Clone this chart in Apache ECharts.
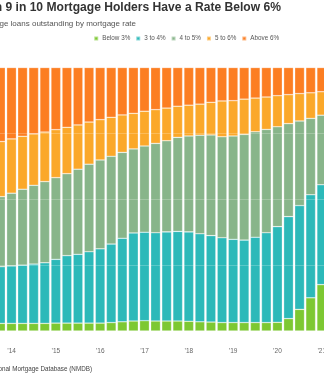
<!DOCTYPE html>
<html>
<head>
<meta charset="utf-8">
<script src="https://cdn.jsdelivr.net/npm/echarts@6/dist/echarts.min.js"></script>
<style>
  html, body { margin: 0; padding: 0; background: #ffffff; overflow: hidden; width: 324px; height: 379px; position: relative; }
  #chart { position: absolute; left: -20px; top: 0; width: 364px; height: 379px; }
</style>
</head>
<body>
<div id="chart"></div>
<script>
// Quarterly categories (2013 Q4 – 2021 Q1)
var categories = [
  '2013Q4',
  '2014Q1','2014Q2','2014Q3','2014Q4',
  '2015Q1','2015Q2','2015Q3','2015Q4',
  '2016Q1','2016Q2','2016Q3','2016Q4',
  '2017Q1','2017Q2','2017Q3','2017Q4',
  '2018Q1','2018Q2','2018Q3','2018Q4',
  '2019Q1','2019Q2','2019Q3','2019Q4',
  '2020Q1','2020Q2','2020Q3','2020Q4',
  '2021Q1'
];
// Tick labels shown at Q1 of each year
var tickLabels = {
  '2014Q1': '\u201914', '2015Q1': '\u201915', '2016Q1': '\u201916', '2017Q1': '\u201917',
  '2018Q1': '\u201918', '2019Q1': '\u201919', '2020Q1': '\u201920', '2021Q1': '\u201921'
};
var seriesNames = ['Below 3%', '3 to 4%', '4 to 5%', '5 to 6%', 'Above 6%'];

// Share of loans outstanding (%)
var below3 = [2.9,2.9,2.9,2.9,2.9,3.0,3.0,3.0,3.0,3.0,3.2,3.5,3.8,3.9,3.8,3.8,3.8,3.7,3.5,3.4,3.2,3.2,3.2,3.2,3.2,3.3,4.7,8.2,12.6,17.6];
var r3to4  = [21.5,21.8,22.1,22.5,23.0,24.2,25.6,26.1,27.1,28.2,29.8,31.7,33.4,33.6,33.5,33.8,34.0,33.9,33.4,32.8,32.2,31.6,31.3,32.4,34.1,36.3,38.7,39.4,39.1,37.9];
var r4to5  = [26.6,27.6,28.8,29.9,30.8,31.0,31.1,32.3,33.2,33.7,33.3,32.6,31.9,32.7,33.9,34.6,35.7,36.4,37.4,38.2,38.3,39.2,40.1,40.0,39.2,37.9,35.3,32.1,29.0,26.4];
var r5to6  = [20.9,20.6,20.1,19.5,18.8,18.2,17.6,16.8,16.0,15.3,14.8,14.2,13.5,13.2,12.8,12.4,11.8,11.7,11.8,12.4,13.6,13.4,13.4,12.8,12.3,11.8,11.0,10.4,9.7,8.9];
var above6 = [28.1,27.1,26.1,25.2,24.5,23.6,22.7,21.8,20.7,19.8,18.9,18.0,17.4,16.6,16.0,15.4,14.7,14.3,13.9,13.2,12.7,12.6,12.0,11.6,11.2,10.7,10.3,9.9,9.6,9.2];

var colors = ['#7dc832', '#2cb9b9', '#88b58a', '#fba82a', '#fc7e22'];
var seriesData = [below3, r3to4, r4to5, r5to6, above6];

var FONT = 'Liberation Sans, Arial, Helvetica, sans-serif';
var chart = echarts.init(document.getElementById('chart'), null, { renderer: 'canvas' });

var option = {
  animation: false,
  backgroundColor: '#ffffff',
  color: colors,
  title: [
    {
      text: 'More than 9 in 10 Mortgage Holders Have a Rate Below 6%',
      right: 63, top: 2, padding: 0,
      textStyle: { fontFamily: FONT, fontSize: 12.1, fontWeight: 'bold', color: '#333333' }
    },
    {
      text: 'Share of mortgage loans outstanding by mortgage rate',
      right: 208, top: 20, padding: 0,
      textStyle: { fontFamily: FONT, fontSize: 8, fontWeight: 'normal', color: '#555555' }
    },
    {
      text: 'Source: Federal Housing Finance Agency, National Mortgage Database (NMDB)',
      right: 252, top: 366.5, padding: 0,
      textStyle: { fontFamily: FONT, fontSize: 6.3, fontWeight: 'normal', color: '#444444' }
    }
  ],
  legend: {
    data: seriesNames,
    right: 65, top: 35.5, padding: 0,
    icon: 'rect',
    itemWidth: 4, itemHeight: 4, itemGap: 5,
    textStyle: { fontFamily: FONT, fontSize: 6.3, color: '#555555', padding: [0, 0, 0, -1] }
  },
  grid: { left: 14.9, right: 16.7, top: 67.5, bottom: 48 },
  xAxis: {
    type: 'category',
    data: categories,
    axisLine: { show: false },
    axisTick: { show: false },
    axisLabel: {
      interval: 0,
      margin: 17,
      fontFamily: FONT, fontSize: 6.5, color: '#666666',
      formatter: function (v) { return tickLabels[v] || ''; }
    }
  },
  yAxis: {
    type: 'value',
    min: 0, max: 100, interval: 25,
    z: 10,
    axisLabel: { show: false },
    axisLine: { show: false },
    axisTick: { show: false },
    splitLine: { show: true, lineStyle: { color: 'rgba(255,255,255,0.22)', width: 1 } }
  },
  series: seriesNames.map(function (name, i) {
    return {
      name: name,
      type: 'bar',
      stack: 'total',
      data: seriesData[i],
      barCategoryGap: '12%',
      itemStyle: { color: colors[i], borderColor: 'rgba(255,255,255,0.45)', borderWidth: 0.6 }
    };
  })
};
chart.setOption(option);
</script>
</body>
</html>
